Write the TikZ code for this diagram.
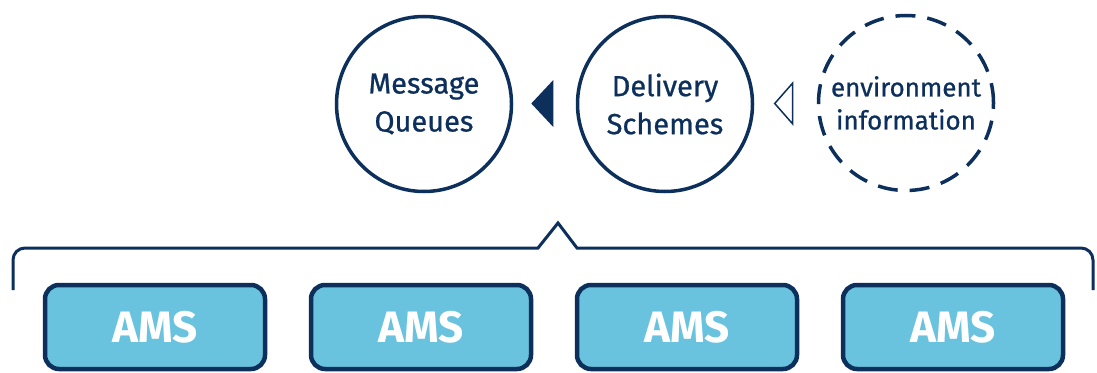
\documentclass[tikz,border=0pt]{standalone}
\usepackage{fontspec}
\setmainfont{Fira Sans}
\newfontfamily\topicfont[FakeBold=0.8]{Fira Sans}
\usetikzlibrary{shapes.geometric}
\definecolor{navy}{HTML}{0C2F5B}
\definecolor{amsblue}{HTML}{69C3DE}

\begin{document}
\begin{tikzpicture}[x=1pt, y=-1pt,
    topic/.style = {circle, draw=navy, line width=3.5pt, minimum size=175pt,
                    inner sep=0pt, align=center, text=navy},
    ams/.style = {draw=navy, fill=amsblue, line width=4.5pt, rounded corners=14pt,
                  minimum width=220pt, minimum height=84pt, text=white,
                  font=\fontsize{44}{48}\selectfont\bfseries},
    pointer/.style = {isosceles triangle, isosceles triangle stretches,
                      shape border rotate=180, inner sep=0pt, outer sep=0pt},
    bracket/.style = {draw=navy, line width=3pt}]
\useasboundingbox (0,0) rectangle (1097,372);

% the three topics
\node[topic, font=\topicfont\fontsize{29}{38}\selectfont] (queues) at (424,104) {Message\\Queues};
\node[topic, font=\topicfont\fontsize{29}{38}\selectfont] (schemes) at (665,104) {Delivery\\Schemes};
\node[topic, dashed, dash pattern=on 20pt off 12pt, font=\topicfont\fontsize{26}{33}\selectfont]
    (envinfo) at (906,103) {environment\\information};

% pointers between them
\node[pointer, fill=navy, minimum height=22pt, minimum width=47pt] (toqueues) at (544,103.5) {};
\node[pointer, draw=navy, line width=1.5pt, minimum height=18pt, minimum width=41pt]
    (toschemes) at (785,103.5) {};

% the AMS row
\foreach \i/\x in {1/155, 2/421, 3/687, 4/953}
    \node[ams] (ams\i) at (\x,327) {AMS};

% bracket over the row
\coordinate (peak) at (558,223);
\draw[bracket] (13,290) [rounded corners=12pt] -- (13,248) -- (300,248) [sharp corners]
    -- (538,248) -- (peak) -- (577,248)
    -- (800,248) [rounded corners=12pt] -- (1093,248) -- (1093,290);
\end{tikzpicture}
\end{document}
